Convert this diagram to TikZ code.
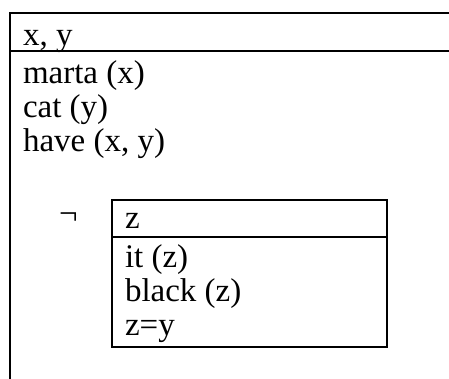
\documentclass[tikz,border=0pt]{standalone}
\usepackage{fontspec}
\setmainfont{Liberation Serif}
\usetikzlibrary{positioning}
\tikzset{
    every picture/.style={line cap=rect,line join=miter},
    drsline/.style={draw=black,line width=2.2pt},
    drstext/.style={anchor=base west,inner sep=0pt,outer sep=0pt,
      font=\fontsize{33}{34}\selectfont}
}
\begin{document}
\begin{tikzpicture}[x=1pt,y=-1pt]
  \useasboundingbox (0,0) rectangle (449,379);
  % outer box (runs off the right and the bottom)
  \coordinate (outNW) at (10,13);
  \coordinate (outNE) at (449,13);
  \coordinate (outSW) at (10,379);
  \draw[drsline] (outNE) -- (outNW) -- (outSW);
  \draw[drsline] (10,51) -- (449,51);
  \node[drstext] (univ) at (23,46) {x, y};
  \foreach \n/\t/\y in {marta/{marta (x)}/84,cat/{cat (y)}/118,have/{have (x, y)}/152} {
    \node[drstext] (\n) at (23,\y) {\t};
  }
  % negated sub-box
  \node[drstext] (neg) at (59,225) {¬};
  \coordinate (inNW) at (112,200);
  \coordinate (inSE) at (387,347);
  \draw[drsline] (inNW) rectangle (inSE);
  \draw[drsline] (112,237) -- (387,237);
  \node[drstext] (inuniv) at (125,228) {z};
  \foreach \n/\t/\y in {it/{it (z)}/267,black/{black (z)}/301,eq/{z=y}/335} {
    \node[drstext] (\n) at (125,\y) {\t};
  }
\end{tikzpicture}
\end{document}
